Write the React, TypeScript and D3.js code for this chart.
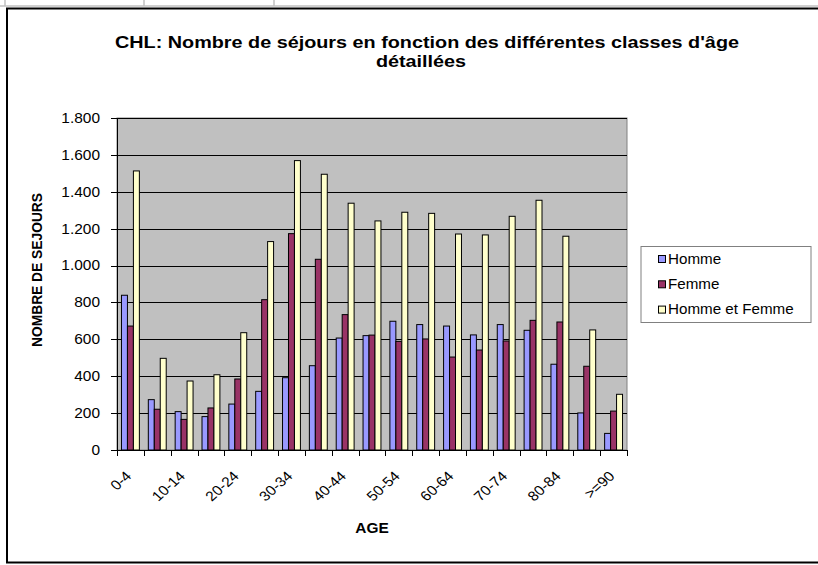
import React from "react";
import * as d3 from "d3";

const categories = ["0-4","5-9","10-14","15-19","20-24","25-29","30-34","35-39","40-44","45-49","50-54","55-59","60-64","65-69","70-74","75-79","80-84","85-89",">=90"];
const homme = [839,273,208,181,249,318,392,457,607,620,698,680,672,624,680,649,465,201,90];
const femme = [672,221,166,228,385,815,1173,1034,734,623,589,602,504,542,591,703,694,454,211];
const hommeEtFemme = [1513,497,374,408,636,1130,1569,1495,1338,1242,1289,1283,1171,1166,1267,1354,1159,651,302];
const seriesNames = ["Homme","Femme","Homme et Femme"];
const seriesColors = ["#9999FF","#993366","#FFFFCC"];
const yTicks = [0,200,400,600,800,1000,1200,1400,1600,1800];

const W = 818, H = 565;
const plot = { left: 117, right: 627, top: 118, bottom: 450 };
const FONT = "Arial, 'Liberation Sans', sans-serif";
const FS = 13.8;   // base font size
const SX = 1.12;   // horizontal stretch of the reference text

const fmt = (v: number) => d3.format(",")(v).replace(/,/g, ".");

export default function App() {
  const x = d3.scaleBand<string>().domain(categories).range([plot.left, plot.right]).paddingInner(0).paddingOuter(0);
  const y = d3.scaleLinear().domain([0, 1800]).range([plot.bottom, plot.top]);
  const step = x.step();
  const bw = step / 4.5;
  const inner = d3.scaleBand<number>().domain([0,1,2]).range([bw*0.75, bw*0.75 + bw*3]).padding(0);
  const data = [homme, femme, hommeEtFemme];

  return (
    <svg width={W} height={H} style={{ position: "absolute", left: 0, top: 0, background: "#fff" }} fontFamily={FONT}>
      <rect x={0} y={0} width={W} height={H} fill="#fff" />
      {/* spreadsheet cell lines */}
      <line x1={0} x2={W} y1={6} y2={6} stroke="#c0c0c0" strokeWidth={1.5} />
      {[5, 144, 274].map((cx) => (
        <line key={cx} x1={cx} x2={cx} y1={0} y2={6} stroke="#c0c0c0" strokeWidth={1.5} />
      ))}
      {/* chart border */}
      <rect x={7} y={8.5} width={W + 20} height={554} fill="#fff" stroke="#000" strokeWidth={2} />

      {/* title */}
      <text transform={`translate(427,48) scale(1.2,1)`} textAnchor="middle" fontWeight="bold" fontSize={16.5}>CHL: Nombre de séjours en fonction des différentes classes d'âge</text>
      <text transform={`translate(421,67) scale(1.2,1)`} textAnchor="middle" fontWeight="bold" fontSize={16.5}>détaillées</text>

      {/* plot area */}
      <rect x={plot.left} y={plot.top} width={plot.right - plot.left} height={plot.bottom - plot.top} fill="#C0C0C0" stroke="#808080" strokeWidth={1} />
      {yTicks.filter((t) => t > 0).map((t) => (
        <line key={t} x1={plot.left} x2={plot.right} y1={Math.round(y(t)) + 0.5} y2={Math.round(y(t)) + 0.5} stroke="#000" strokeWidth={1} />
      ))}

      {/* bars */}
      {data.map((s, si) =>
        s.map((v, i) => {
          const bx = (x(categories[i]) as number) + (inner(si) as number);
          return (
            <rect key={`${si}-${i}`} x={bx} y={y(v)} width={inner.bandwidth()} height={plot.bottom - y(v)} fill={seriesColors[si]} stroke="#000" strokeWidth={1} />
          );
        })
      )}

      {/* y axis */}
      <line x1={plot.left + 0.5} x2={plot.left + 0.5} y1={plot.top} y2={plot.bottom} stroke="#000" />
      {yTicks.map((t) => (
        <g key={t}>
          <line x1={plot.left - 6} x2={plot.left} y1={Math.round(y(t)) + 0.5} y2={Math.round(y(t)) + 0.5} stroke="#000" />
          <text transform={`translate(100,${y(t)}) scale(${SX},1)`} dy="0.35em" textAnchor="end" fontSize={FS}>{fmt(t)}</text>
        </g>
      ))}

      {/* x axis */}
      <line x1={plot.left} x2={plot.right} y1={plot.bottom + 0.5} y2={plot.bottom + 0.5} stroke="#000" />
      {d3.range(categories.length + 1).map((i) => {
        const tx = Math.round(plot.left + i * step) + 0.5;
        return <line key={i} x1={tx} x2={tx} y1={plot.bottom} y2={plot.bottom + 6} stroke="#000" />;
      })}
      {categories.map((c, i) =>
        i % 2 === 0 ? (
          <text key={c} transform={`translate(${(x(c) as number) + step / 2 + 2},${477}) scale(${SX},1) rotate(-45)`} textAnchor="end" fontSize={FS}>{c}</text>
        ) : null
      )}

      {/* axis titles */}
      <text transform={`translate(372,533) scale(${SX},1)`} textAnchor="middle" fontWeight="bold" fontSize={FS}>AGE</text>
      <text transform={`translate(42,270) scale(${SX},1) rotate(-90)`} textAnchor="middle" fontWeight="bold" fontSize={FS}>NOMBRE DE SEJOURS</text>

      {/* legend */}
      <rect x={641} y={246.5} width={170} height={76} fill="#fff" stroke="#808080" />
      {seriesNames.map((n, i) => (
        <g key={n}>
          <rect x={658.5} y={255.5 + i * 25.3} width={7} height={7} fill={seriesColors[i]} stroke="#000" />
          <text transform={`translate(668,${259 + i * 25.3}) scale(1.1,1)`} dy="0.35em" fontSize={FS}>{n}</text>
        </g>
      ))}
    </svg>
  );
}
